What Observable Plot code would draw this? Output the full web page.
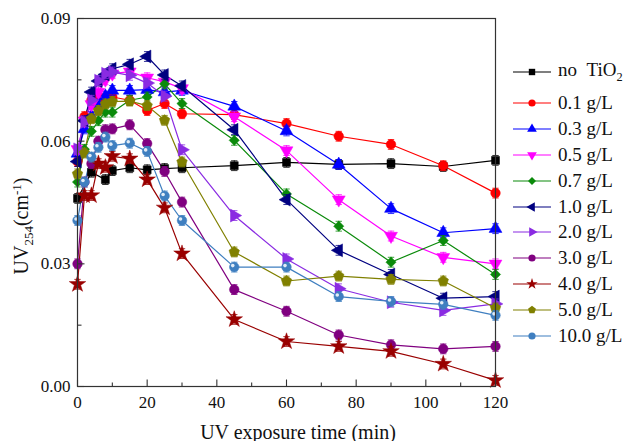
<!DOCTYPE html>
<html><head><meta charset="utf-8">
<script src="https://cdn.jsdelivr.net/npm/d3@7"></script>
<script src="https://cdn.jsdelivr.net/npm/@observablehq/plot@0.6"></script>
<style>
body{margin:0;background:#fff;font-family:"Liberation Serif",serif;}
#wrap{position:relative;width:631px;height:441px;overflow:hidden;}
#wrap svg text{font-family:"Liberation Serif",serif;}
#ylab{position:absolute;left:23px;top:226px;transform:translate(-50%,-50%) rotate(-90deg);font-size:20px;white-space:nowrap;color:#111;}
#xlab{position:absolute;left:298px;top:432px;transform:translate(-50%,-50%);font-size:20px;white-space:nowrap;color:#111;}
#legend{position:absolute;left:512px;top:59px;font-size:19px;color:#111;}
.row{display:flex;align-items:center;height:25.8px;white-space:nowrap;}
.row svg{margin-right:6px;}
.row.first{margin-bottom:5.8px;}
sub,sup{font-size:65%;}
</style></head>
<body><div id="wrap"></div>
<script>
// ---- data ----
const times = [0, 2, 4, 6, 8, 10, 15, 20, 25, 30, 45, 60, 75, 90, 105, 120];
const noTiO2 = [0.046, null, 0.0524, null, 0.0506, 0.0528, 0.0535, 0.053, 0.0533, 0.0535, 0.054, 0.0548, 0.0543, 0.0545, 0.0538, 0.0553];
const c01 = [0.055, 0.066, 0.070, 0.071, 0.0695, 0.0708, 0.070, 0.0675, 0.0692, 0.0667, 0.0665, 0.0643, 0.0612, 0.0592, 0.054, 0.0473];
const c03 = [0.057, 0.063, 0.066, 0.069, 0.071, 0.0724, 0.0724, 0.0726, 0.072, 0.0724, 0.0685, 0.0625, 0.0543, 0.0435, 0.0376, 0.0386];
const c05 = [0.058, 0.065, 0.069, 0.072, 0.075, 0.0765, 0.077, 0.0755, 0.0745, 0.0729, 0.066, 0.0577, 0.0457, 0.0368, 0.0316, 0.030];
const c07 = [0.050, 0.058, 0.0624, 0.065, 0.0671, 0.0671, 0.070, 0.0708, 0.074, 0.0692, 0.0602, 0.0471, 0.0392, 0.0304, 0.0357, 0.0274];
const c10 = [0.055, 0.065, 0.072, 0.0747, 0.0763, 0.0777, 0.0788, 0.0807, 0.0762, 0.0735, 0.0628, 0.0457, 0.0333, 0.0274, 0.0216, 0.022];
const c20 = [0.058, 0.0647, 0.070, 0.0748, 0.0765, 0.0769, 0.0761, 0.0742, 0.071, 0.0579, 0.0418, 0.0312, 0.0239, 0.0206, 0.0186, 0.0202];
const c30 = [0.030, 0.050, 0.0545, 0.060, 0.0628, 0.063, 0.064, 0.0594, 0.0526, 0.0451, 0.0237, 0.0184, 0.0126, 0.0102, 0.0092, 0.0098];
const c40 = [0.025, 0.0467, 0.0467, 0.0545, 0.0536, 0.0563, 0.0557, 0.0506, 0.0437, 0.0325, 0.0164, 0.011, 0.0098, 0.0086, 0.0055, 0.0015];
const c50 = [0.052, 0.0571, 0.0655, 0.0675, 0.0691, 0.0697, 0.0698, 0.0687, 0.0651, 0.0549, 0.0329, 0.0258, 0.027, 0.0262, 0.0258, 0.0192];
const c100 = [0.0406, 0.050, 0.0561, 0.0585, 0.061, 0.0589, 0.0595, 0.0575, 0.0466, 0.0406, 0.0292, 0.0292, 0.022, 0.0208, 0.0201, 0.0174];
const labels = ["no TiO2", "0.1 g/L", "0.3 g/L", "0.5 g/L", "0.7 g/L", "1.0 g/L", "2.0 g/L", "3.0 g/L", "4.0 g/L", "5.0 g/L", "10.0 g/L"];
const xTicks = [0, 20, 40, 60, 80, 100, 120];
const xMinor = [10, 30, 50, 70, 90, 110];
const yTicks = [0, 0.03, 0.06, 0.09];
const yMinor = [0.015, 0.045, 0.075];
const ERR = 0.0012;

// ---- custom symbols ----
const s3 = Math.sqrt(3);
function tri(map) {
  return {draw(ctx, size) {
    const y = -Math.sqrt(size / (s3 * 3));
    const pts = [[0, y * 2], [-s3 * y, -y], [s3 * y, -y]].map(map);
    ctx.moveTo(pts[0][0], pts[0][1]); ctx.lineTo(pts[1][0], pts[1][1]); ctx.lineTo(pts[2][0], pts[2][1]); ctx.closePath();
  }};
}
const triUp = tri(([x, y]) => [x, y]);
const triDown = tri(([x, y]) => [x, -y]);
const triLeft = tri(([x, y]) => [y, x]);
const triRight = tri(([x, y]) => [-y, x]);
const pentagon = {draw(ctx, size) {
  const R = Math.sqrt(size / (2.5 * Math.sin(2 * Math.PI / 5)));
  for (let k = 0; k < 5; k++) {
    const a = -Math.PI / 2 + k * 2 * Math.PI / 5;
    k ? ctx.lineTo(R * Math.cos(a), R * Math.sin(a)) : ctx.moveTo(R * Math.cos(a), R * Math.sin(a));
  }
  ctx.closePath();
}};
const cap = {draw(ctx, size) { const w = Math.sqrt(size / Math.PI); ctx.moveTo(-w, 0); ctx.lineTo(w, 0); }};
// inward tick marks: vertical (up from bottom frame) and horizontal (right from left frame)
const vTick = {draw(ctx, size) { const l = Math.sqrt(size / Math.PI); ctx.moveTo(0, 0); ctx.lineTo(0, -l); }};
const hTick = {draw(ctx, size) { const l = Math.sqrt(size / Math.PI); ctx.moveTo(0, 0); ctx.lineTo(l, 0); }};

const seriesValues = [noTiO2, c01, c03, c05, c07, c10, c20, c30, c40, c50, c100];
const colors = ["#000000", "#ff0000", "#0000ff", "#ff00ff", "#0a8a0a", "#000080", "#8a2be2", "#800080", "#990000", "#808000", "#3f7fc0"];
const symbols = [d3.symbolSquare, d3.symbolCircle, triUp, triDown, d3.symbolDiamond2, triLeft, triRight, d3.symbolCircle, d3.symbolStar, pentagon, d3.symbolCircle];
const sizes = [4.5, 4.8, 4.8, 4.8, 4.6, 4.8, 4.8, 4.8, 5.2, 4.8, 4.8];

const series = labels.map((name, i) => ({
  name, color: colors[i], symbol: symbols[i], r: sizes[i],
  data: times.map((t, j) => ({t, v: seriesValues[i][j]})).filter(d => d.v != null)
}));

const marks = [];
for (const s of series) {
  marks.push(Plot.line(s.data, {x: "t", y: "v", stroke: s.color, strokeWidth: 1.2}));
}
for (const s of series) {
  marks.push(Plot.ruleX(s.data, {x: "t", y1: d => d.v - ERR, y2: d => d.v + ERR, stroke: s.color, strokeWidth: 1, strokeOpacity: 0.8}));
  marks.push(Plot.dot(s.data, {x: "t", y: d => d.v + ERR, symbol: cap, r: 3.2, stroke: s.color, strokeWidth: 1, strokeOpacity: 0.8}));
  marks.push(Plot.dot(s.data, {x: "t", y: d => d.v - ERR, symbol: cap, r: 3.2, stroke: s.color, strokeWidth: 1, strokeOpacity: 0.8}));
  marks.push(Plot.dot(s.data, {x: "t", y: "v", symbol: s.symbol, r: s.r, fill: s.color, stroke: s.color, strokeWidth: 0.5}));
  if (s.name === "10.0 g/L") {
    marks.push(Plot.dot(s.data, {x: "t", y: "v", r: 1.8, fill: "white", fillOpacity: 0.85, dx: -1.5, dy: -1.5}));
  }
}

const serif = "'Liberation Serif', serif";
const chart = Plot.plot({
  width: 631, height: 441,
  marginLeft: 77, marginRight: 136, marginTop: 18, marginBottom: 55,
  style: {fontFamily: serif, fontSize: "17px", color: "#111", background: "white"},
  x: {domain: [0, 120], axis: null},
  y: {domain: [0, 0.09], axis: null},
  marks: [
    ...marks,
    Plot.frame({stroke: "#333", strokeWidth: 1.2}),
    Plot.axisX(xTicks, {anchor: "bottom", label: null, tickSize: 0, tickPadding: 9, tickFormat: d3.format("d"), fontSize: 17, fontFamily: serif}),
    Plot.axisY(yTicks, {anchor: "left", label: null, tickSize: 0, tickPadding: 7, tickFormat: d3.format(".2f"), fontSize: 17, fontFamily: serif}),
    Plot.dot(xTicks, {x: d => d, frameAnchor: "bottom", symbol: vTick, r: 7, stroke: "#333", strokeWidth: 1.1}),
    Plot.dot(xMinor, {x: d => d, frameAnchor: "bottom", symbol: vTick, r: 4, stroke: "#333", strokeWidth: 1.1}),
    Plot.dot(yTicks, {y: d => d, frameAnchor: "left", symbol: hTick, r: 7, stroke: "#333", strokeWidth: 1.1}),
    Plot.dot(yMinor, {y: d => d, frameAnchor: "left", symbol: hTick, r: 4, stroke: "#333", strokeWidth: 1.1})
  ]
});

const wrap = document.getElementById("wrap");
wrap.appendChild(chart);

const ylab = document.createElement("div");
ylab.id = "ylab";
ylab.innerHTML = "UV<sub>254</sub>(cm<sup>-1</sup>)";
wrap.appendChild(ylab);

const xlab = document.createElement("div");
xlab.id = "xlab";
xlab.textContent = "UV exposure time (min)";
wrap.appendChild(xlab);

const legend = document.createElement("div");
legend.id = "legend";
series.forEach((s, i) => {
  const row = document.createElement("div");
  row.className = "row" + (i === 0 ? " first" : "");
  const path = d3.symbol().type(s.symbol).size(Math.PI * 3.6 * 3.6)();
  row.innerHTML = `<svg width="40" height="14" viewBox="-20 -7 40 14"><line x1="-19" x2="19" y1="0" y2="0" stroke="${s.color}" stroke-width="1.2"/><path d="${path}" fill="${s.color}"/></svg>` +
    `<span>${s.name === "no TiO2" ? "no&nbsp;&nbsp;TiO<sub>2</sub>" : s.name}</span>`;
  legend.appendChild(row);
});
wrap.appendChild(legend);
</script></body></html>
